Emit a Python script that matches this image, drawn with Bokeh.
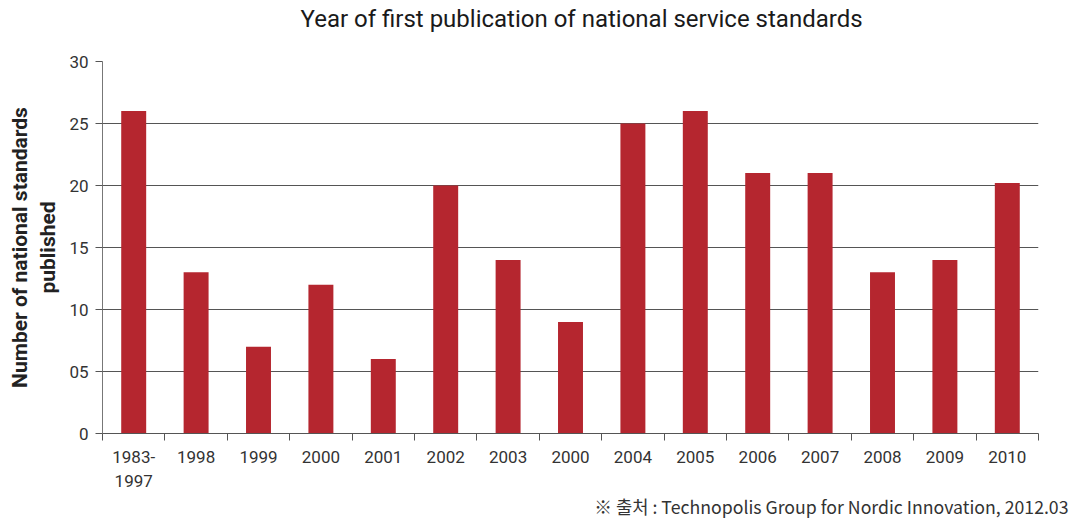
from bokeh.plotting import figure
from bokeh.models import FixedTicker, Title, ColumnDataSource
from bokeh.embed import file_html
from bokeh.resources import INLINE

categories = ["1983-\n1997", "1998", "1999", "2000", "2001", "2002", "2003", "2000",
              "2004", "2005", "2006", "2007", "2008", "2009", "2010"]
values = [26, 13, 7, 12, 6, 20, 14, 9, 25, 26, 21, 21, 13, 14, 20.2]
y_ticks = [0, 5, 10, 15, 20, 25, 30]
y_tick_labels = ["0", "05", "10", "15", "20", "25", "30"]
title_text = "Year of first publication of national service standards"
source_text = "※ 출처 : Technopolis Group for Nordic Innovation, 2012.03"

n = len(categories)
centers = [i + 0.5 for i in range(n)]
src = ColumnDataSource(dict(x=centers, top=values))

p = figure(width=1092, height=519, output_backend="svg", toolbar_location=None,
           x_range=(0, n), y_range=(0, 30),
           min_border_left=102, min_border_right=54, min_border_top=61, min_border_bottom=86)
p.background_fill_color = "white"
p.border_fill_color = "white"
p.outline_line_color = None

p.vbar(x="x", top="top", width=0.4, bottom=0, source=src, color="#B5262F", line_color=None)

font = "Roboto"
# x axis
p.xaxis.ticker = FixedTicker(ticks=centers, minor_ticks=list(range(n + 1)))
p.xaxis.major_label_overrides = {c: lab for c, lab in zip(centers, categories)}
p.xaxis.major_tick_line_color = None
p.xaxis.minor_tick_line_color = "#555555"
p.xaxis.minor_tick_out = 7
p.xaxis.minor_tick_in = 0
p.xaxis.axis_line_color = "#555555"
p.xaxis.major_label_text_font = font
p.xaxis.major_label_text_font_size = "17px"
p.xaxis.major_label_text_color = "#333333"
p.xaxis.major_label_standoff = 6

# y axis
p.yaxis.ticker = FixedTicker(ticks=y_ticks, minor_ticks=[])
p.yaxis.major_label_overrides = {t: l for t, l in zip(y_ticks, y_tick_labels)}
p.yaxis.axis_line_color = "#777777"
p.yaxis.major_tick_line_color = "#555555"
p.yaxis.major_tick_out = 7
p.yaxis.major_tick_in = 0
p.yaxis.major_label_text_font = font
p.yaxis.major_label_text_font_size = "17px"
p.yaxis.major_label_text_color = "#333333"
p.yaxis.major_label_standoff = 7
p.yaxis.axis_label = "Number of national standards\npublished"
p.yaxis.axis_label_text_font = font
p.yaxis.axis_label_text_font_style = "bold"
p.yaxis.axis_label_text_font_size = "21px"
p.yaxis.axis_label_text_color = "#222222"
p.yaxis.axis_label_standoff = 6

p.xgrid.grid_line_color = None
p.ygrid.grid_line_color = "#555555"
p.ygrid.grid_line_width = 1

# trailing blank line lifts the title toward the top edge, as in the reference
p.title = Title(text=title_text + "\n ", align="left", offset=198, standoff=2,
                text_font=font, text_font_size="24px", text_font_style="normal",
                text_color="#1a1a1a")

p.add_layout(Title(text=source_text, align="right", text_font="Noto Sans CJK KR",
                   text_font_size="17.7px", text_font_style="normal",
                   text_color="#333333", offset=-30, standoff=-6), "below")

open("out.html", "w").write(file_html(p, INLINE))
